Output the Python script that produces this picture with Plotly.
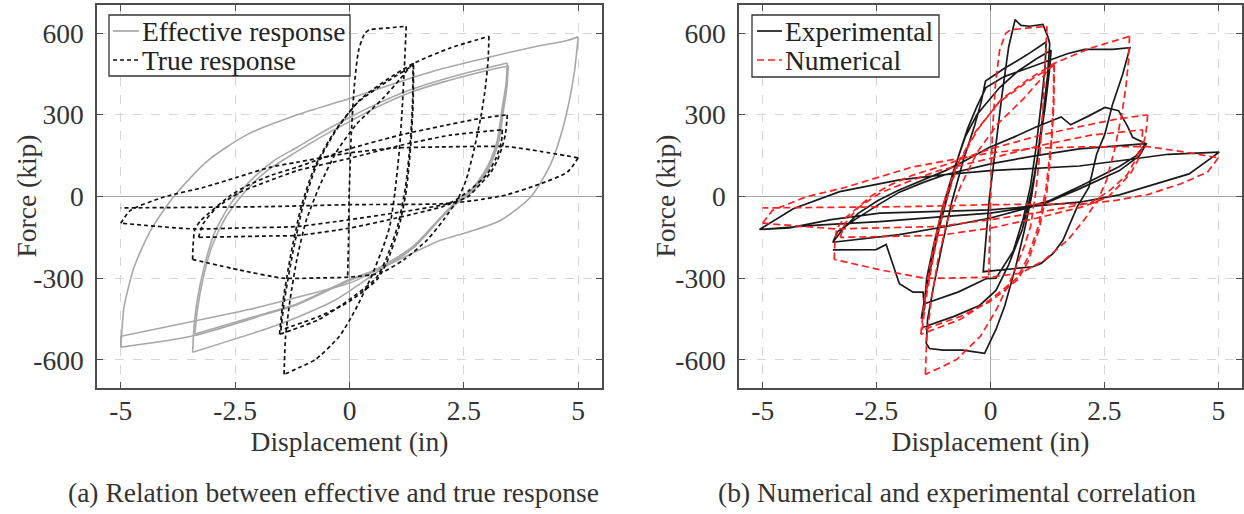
import plotly.graph_objects as go

# ---------------- data ----------------
# Each loop branch ends at a reversal point; None starts a new branch so the
# reversal tips stay sharp.

# (a) effective response (grey, solid)
eff_x = [3.46, 3.43, 3.35, 3.24, 3.02, 2.66, 2.29, 2.0, 1.39, 0.58, -0.29, -1.14, -1.75, -3.43, None,
         -3.43, -3.4, -3.33, -3.18, -2.96, -2.6, -2.16, -1.65, -1.14, -0.5, 0, 0.6, 1.3, 2.0, 2.7, 3.2, 3.45, None,
         3.45, 3.42, 3.34, 3.23, 3.01, 2.65, 2.28, 2.0, 1.39, 0.58, 0, -1.14, -1.75, -3.38, None,
         -3.38, -3.32, -3.2, -3.0, -2.7, -2.3, -1.8, -1.2, -0.5, 0, 0.6, 1.3, 2.0, 2.7, 3.2, 3.47, None,
         3.47, 3.44, 3.37, 3.26, 3.04, 2.68, 2.3, 2.0, 1.39, 0.58, 0, -1.14, -1.75, -3.38, -5.0, None,
         -5.0, -4.97, -4.93, -4.71, -4.35, -3.84, -3.11, -2.23, -1.14, 0, 1.17, 2.0, 3.07, 4.0, 4.76, 5.0, None,
         5.0, 4.91, 4.69, 4.4, 3.96, 3.3, 2.6, 1.99, 1.39, 0.58, 0, -1.14, -2.2, -3.33, -5.0, None,
         -5.0, -5.0]
eff_y = [484, 405, 325, 203, 105, 20, -30, -78, -190, -280, -378, -443, -482, -572, None,
         -572, -480, -382, -260, -137, -27, 59, 132, 181, 245, 290, 340, 390, 428, 460, 480, 490, None,
         490, 410, 328, 206, 108, 22, -27, -75, -183, -268, -305, -394, -425, -505, None,
         -505, -410, -300, -180, -75, 15, 95, 160, 230, 275, 328, 380, 418, 450, 470, 478, None,
         478, 400, 320, 200, 102, 18, -32, -80, -186, -270, -308, -397, -428, -510, -553, None,
         -553, -480, -406, -260, -125, 0, 130, 228, 300, 360, 425, 468, 512, 548, 573, 586, None,
         586, 450, 267, 120, -2, -88, -130, -161, -207, -272, -318, -370, -415, -455, -513, None,
         -513, -553]

# (a) true response (black, dashed) -- also the numerical curve of (b)
true_x = [-0.04, -0.02, -0.01, 0.04, 0.11, 0.2, 0.33, 0.44, 0.8, 1.24, None,
          1.24, 1.2, 1.15, 1.09, 0.99, 0.88, 0.74, 0.48, 0.13, -0.22, -0.74, -1.1, -1.43, None,
          -1.43, -1.4, -1.3, -1.15, -0.95, -0.65, -0.3, 0.15, 0.73, 1.1, 1.39, None,
          1.39, 1.38, 1.33, 1.22, 1.05, 0.8, 0.58, 0, -0.66, -1.53, None,
          -1.53, -1.45, -1.28, -1.06, -0.77, -0.33, 0.18, 0.8, 1.4, None,
          1.4, 1.39, 1.34, 1.24, 1.07, 0.82, 0.6, 0, -0.66, -1.5, None,
          -1.5, -1.42, -1.24, -1.02, -0.73, -0.29, 0.22, 0.8, 1.39, 2.2, 3.05, None,
          3.05, 3.03, 2.97, 2.88, 2.72, 2.55, 2.36, 2.06, 1.7, 1.19, 0.68, 0, -0.7, -1.45, -2.4, -3.43, None,
          -3.43, -3.42, -3.38, -3.25, -2.6, -2.23, -1.73, -1.14, 0, 1.17, 2.0, 2.8, 3.45, None,
          3.45, 3.41, 3.34, 3.23, 3.09, 2.87, 2.58, 2.28, 2.04, 1.0, 0, -1.14, -1.75, -3.3, None,
          -3.3, -3.2, -2.9, -2.4, -1.8, -1.14, 0, 1.17, 2.2, 3.34, None,
          3.34, 3.32, 3.2, 3.0, 2.6, 2.19, 1.0, 0, -1.14, -2.3, -3.4, -5.0, None,
          -5.0, -4.79, -4.06, -3.18, -2.45, -1.72, -1.14, 0, 1.0, 2.0, 3.45, 4.2, 5.0, None,
          5.0, 4.76, 4.18, 3.45, 2.72, 1.99, 0, -1.75, -5.0]
true_y = [-290, -150, -12, 232, 415, 537, 598, 612, 618, 625, None,
          625, 476, 317, 171, 12, -110, -183, -293, -415, -513, -598, -628, -653, None,
          -653, -520, -380, -230, -90, 40, 160, 265, 360, 430, 490, None,
          490, 350, 200, 30, -110, -230, -300, -378, -451, -506, None,
          -506, -380, -210, -40, 105, 238, 345, 420, 482, None,
          482, 340, 190, 20, -120, -240, -305, -385, -440, -490, None,
          -490, -378, -207, -37, 110, 244, 354, 427, 488, 545, 588, None,
          588, 500, 400, 300, 170, 61, -12, -85, -159, -232, -281, -296, -299, -300, -270, -231, None,
          -231, -180, -120, -88, 4, 40, 77, 108, 175, 228, 258, 285, 300, None,
          300, 230, 183, 132, 89, 47, -2, -21, -37, -80, -116, -143, -145, -150, None,
          -150, -100, -40, 15, 55, 95, 140, 190, 225, 245, None,
          245, 200, 140, 80, 20, -24, -60, -85, -110, -115, -119, -98, None,
          -98, -51, -2, 34, 71, 108, 126, 160, 178, 182, 183, 165, 142, None,
          142, 89, 47, 7, -15, -27, -30, -37, -42]

# (b) experimental (black, solid); None separates disconnected pieces
exp_x = [-3.46, -3.43, -3.26, -2.91, -2.47, -2.03, -1.51, -0.99, -0.55, -0.03, 0.5, 1.0, 1.55, 1.76, 2.16, 2.51, 2.81, 3.0, 3.12, 3.42,
         3.27, 2.83, 1.95, 1.22, 0, -0.97, -2.0, -3.46,
         -3.36, -2.95, -2.43, -2.0, -1.5, -1.0, 0, 1.0, 1.95, 3.41,
         3.2, 2.83, 2.0, 1.3, 0.71, 0, -0.97, -2.43, -3.8, -5.07,
         -4.33, -3.31, -2.0, -1.0, 0, 1.0, 1.95, 3.0, 3.9, 5.02,
         4.36, 3.5, 2.83, 1.95, 0, -2.43, -3.5, -4.41, -5.07,
         None,
         -3.46, -2.51, -2.29, -2.14, -2.0, -1.7, -1.48, -1.45, -1.52,
         -1.45, -1.3, -1.12, -0.9, -0.7, -0.5, -0.3, -0.1, 0.3, 0.8, 1.37, 1.7, 2.07, 2.68, 3.06,
         2.9, 2.68, 2.51, 2.33, 2.16, 1.9, 1.59, 1.37, 1.11, 0.93, 0.59, -0.16,
         -0.03, 0.1, 0.25, 0.4, 0.54, 0.67, 0.85, 1.15, 1.26, 1.3,
         1.25, 1.15, 1.02, 0.9, 0.75, 0.55, 0.31, 0.12, -0.13, -0.61, -1.04, -1.34, -1.41,
         -1.38, -1.25, -1.05, -0.85, -0.6, -0.35, -0.2, -0.11, 0.3, 0.8, 1.22,
         1.2, 1.12, 1.0, 0.88, 0.72, 0.5, 0.12, -0.1, -0.7, -1.45,
         -1.4, -1.25, -1.05, -0.8, -0.55, -0.3, 0.2, 0.6, 1.0, 1.33,
         1.3, 1.2, 1.05, 0.9, 0.7, 0.4, 0.12, -0.24, -0.8, -1.48]
exp_y = [-168, -161, -124, -63, -15, 22, 58, 95, 132, 180, 217, 255, 292, 263, 296, 327, 315, 260, 217, 193,
         150, 95, 28, -24, -79, -110, -140, -168,
         -130, -82, -27, 16, 50, 80, 120, 150, 175, 194,
         150, 110, 40, -15, -43, -61, -73, -92, -105, -121,
         -45, 18, 61, 80, 95, 105, 112, 135, 155, 163,
         83, 40, 6, -21, -49, -61, -85, -115, -121,
         None,
         -196, -195, -176, -247, -320, -351, -351, -412, -449,
         -380, -250, -110, 30, 150, 250, 330, 400, 440, 470, 503, 525, 540, 540, 546,
         448, 339, 229, 156, 34, -39, -161, -210, -246, -258, -264, -276,
         -15, 168, 370, 550, 649, 628, 625, 632, 586, 560,
         440, 300, 130, 0, -120, -260, -403, -488, -576, -564, -564, -558, -539,
         -450, -330, -170, -20, 130, 260, 350, 424, 470, 520, 567,
         480, 350, 180, 40, -80, -200, -300, -302, -350, -394,
         -300, -180, -40, 100, 220, 300, 400, 460, 505, 537,
         470, 330, 160, 20, -120, -250, -345, -400, -440, -480]

# (b) numerical = same model output as the true response of (a)
num_x = list(true_x)
num_y = list(true_y)

x_ticks = [-5, -2.5, 0, 2.5, 5]
x_tick_text = ["-5", "-2.5", "0", "2.5", "5"]
y_ticks = [-600, -300, 0, 300, 600]
y_tick_text = ["-600", "-300", "0", "300", "600"]

# ---------------- figure ----------------
FONT = "Liberation Serif"
TXT = "#333333"
FS = 27.5
W, H = 1244, 514

GREY = "#a8a8a8"
BLACK = "#111111"
RED = "#ff1f1f"
DASH_TRUE = "4px,3px"
DASH_NUM = "7px,4px"

fig = go.Figure()
fig.add_trace(go.Scatter(x=eff_x, y=eff_y, mode="lines", name="Effective response", showlegend=False,
                         connectgaps=False,
                         line=dict(color=GREY, width=1.6, shape="spline", smoothing=0.7), xaxis="x", yaxis="y"))
fig.add_trace(go.Scatter(x=true_x, y=true_y, mode="lines", name="True response", showlegend=False,
                         connectgaps=False,
                         line=dict(color=BLACK, width=1.7, dash=DASH_TRUE, shape="spline", smoothing=0.6),
                         xaxis="x", yaxis="y"))
fig.add_trace(go.Scatter(x=exp_x, y=exp_y, mode="lines", name="Experimental", connectgaps=False, showlegend=False,
                         line=dict(color="#1a1a1a", width=1.7), xaxis="x2", yaxis="y2"))
fig.add_trace(go.Scatter(x=num_x, y=num_y, mode="lines", name="Numerical", showlegend=False, connectgaps=False,
                         line=dict(color=RED, width=1.7, dash=DASH_NUM), xaxis="x2", yaxis="y2"))

def xax(domain, anchor):
    return dict(domain=domain, anchor=anchor, range=[-5.52, 5.52],
                tickmode="array", tickvals=x_ticks, ticktext=x_tick_text,
                showline=True, linecolor="#4d4d4d", linewidth=1.6, mirror="ticks",
                ticks="inside", ticklen=6, tickcolor="#4d4d4d", tickwidth=1,
                showgrid=True, gridcolor="#d6d6d6", griddash="dash", gridwidth=1,
                zeroline=True, zerolinecolor="#a8a8a8", zerolinewidth=1.3,
                tickfont=dict(family=FONT, size=FS, color=TXT), ticklabelstandoff=-3,
                title=dict(text="Displacement (in)", font=dict(family=FONT, size=FS, color=TXT), standoff=0))

def yax(domain, anchor):
    return dict(domain=domain, anchor=anchor, range=[-703, 703],
                tickmode="array", tickvals=y_ticks, ticktext=y_tick_text,
                showline=True, linecolor="#4d4d4d", linewidth=1.6, mirror="ticks",
                ticks="inside", ticklen=6, tickcolor="#4d4d4d", tickwidth=1,
                showgrid=True, gridcolor="#d6d6d6", griddash="dash", gridwidth=1,
                zeroline=True, zerolinecolor="#a8a8a8", zerolinewidth=1.3,
                tickfont=dict(family=FONT, size=FS, color=TXT), ticklabelstandoff=6)

def px_x(p):
    return p / W

def px_y(p):
    return 1 - p / H

ydom = [px_y(388), px_y(5)]

shapes = []
annotations = []

def add_legend(box, sample_x, text_x, rows):
    x0, x1, y0, y1 = box
    shapes.append(dict(type="rect", xref="paper", yref="paper", layer="above",
                       x0=px_x(x0), x1=px_x(x1), y0=px_y(y1), y1=px_y(y0),
                       line=dict(color="#333333", width=1.3), fillcolor="white"))
    for (label, color, dash, yc) in rows:
        shapes.append(dict(type="line", xref="paper", yref="paper", layer="above",
                           x0=px_x(sample_x[0]), x1=px_x(sample_x[1]), y0=px_y(yc), y1=px_y(yc),
                           line=dict(color=color, width=1.7, dash=dash)))
        annotations.append(dict(text=label, xref="paper", yref="paper", x=px_x(text_x), y=px_y(yc),
                                xanchor="left", yanchor="middle", showarrow=False,
                                font=dict(family=FONT, size=FS, color="#222222")))

add_legend((109, 350, 15, 76), (113, 139), 140,
           [("Effective response", GREY, "solid", 31), ("True response", BLACK, DASH_TRUE, 60)])
add_legend((752, 939, 15, 77), (757, 782), 783,
           [("Experimental", "#1a1a1a", "solid", 31), ("Numerical", RED, DASH_NUM, 60)])

for xc in (26, 665):
    annotations.append(dict(text="Force (kip)", xref="paper", yref="paper", x=px_x(xc), y=px_y(196.5),
                            xanchor="center", yanchor="middle", textangle=-90, showarrow=False,
                            font=dict(family=FONT, size=FS, color=TXT)))

annotations.append(dict(text="(a) Relation between effective and true response", xref="paper", yref="paper",
                        x=px_x(333), y=px_y(492), xanchor="center", yanchor="middle", showarrow=False,
                        font=dict(family=FONT, size=FS, color=TXT)))
annotations.append(dict(text="(b) Numerical and experimental correlation", xref="paper", yref="paper",
                        x=px_x(957), y=px_y(492), xanchor="center", yanchor="middle", showarrow=False,
                        font=dict(family=FONT, size=FS, color=TXT)))

fig.update_layout(
    width=W, height=H, margin=dict(l=0, r=0, t=0, b=0),
    paper_bgcolor="white", plot_bgcolor="white",
    xaxis=xax([px_x(97), px_x(602)], "y"), yaxis=yax(ydom, "x"),
    xaxis2=xax([px_x(739), px_x(1242)], "y2"), yaxis2=yax(ydom, "x2"),
    shapes=shapes, annotations=annotations, showlegend=False,
)

fig.write_html("out.html", config={"displayModeBar": False},
               post_script="document.body.style.margin='0';document.body.style.overflow='hidden';")
